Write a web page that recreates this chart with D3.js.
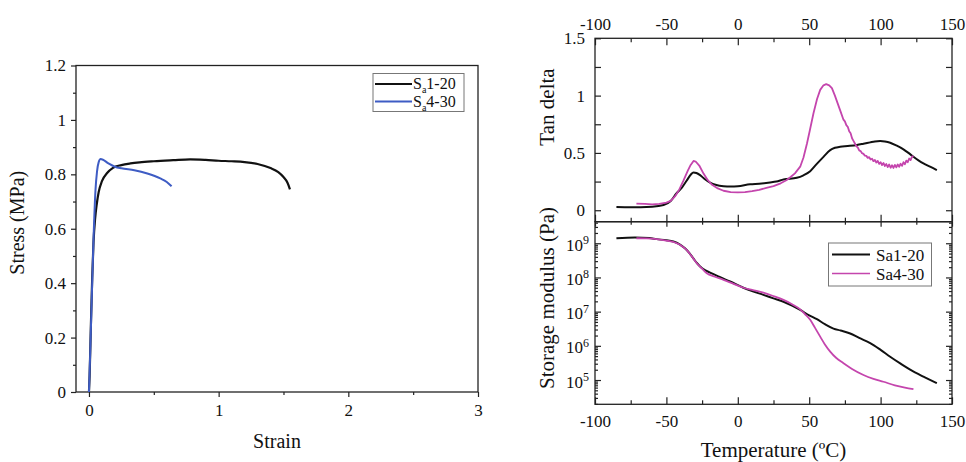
<!DOCTYPE html>
<html>
<head>
<meta charset="utf-8">
<script src="https://cdn.jsdelivr.net/npm/d3@7/dist/d3.min.js"></script>
<style>
    body { margin: 0; background: #fff; }
    svg text { font-family: "Liberation Serif", "Times New Roman", serif; fill: #111; }
</style>
</head>
<body>
<svg id="chart" width="966" height="462"></svg>
<script>
// ---- tensile test (left) ----
let strainTicks = [0, 1, 2, 3];
let strainMinor = [0.5, 1.5, 2.5];
let stressTicks = [0, 0.2, 0.4, 0.6, 0.8, 1, 1.2];
let stressMinor = [0.1, 0.3, 0.5, 0.7, 0.9, 1.1];

let tensileSa1 = [[0, 0], [0.005, 0.06], [0.015, 0.25], [0.025, 0.42], [0.035, 0.55], [0.048, 0.64],
    [0.06, 0.69], [0.075, 0.735], [0.1, 0.775], [0.14, 0.805], [0.185, 0.824], [0.25, 0.834],
    [0.32, 0.84], [0.39, 0.844], [0.5, 0.848], [0.65, 0.852], [0.78, 0.855], [0.9, 0.853],
    [1.0, 0.85], [1.1, 0.848], [1.2, 0.845], [1.3, 0.838], [1.4, 0.823], [1.46, 0.808],
    [1.5, 0.79], [1.53, 0.77], [1.55, 0.745]];
let tensileSa4 = [[0, 0], [0.01, 0.15], [0.02, 0.32], [0.035, 0.56], [0.05, 0.74], [0.062, 0.81],
    [0.075, 0.845], [0.09, 0.856], [0.11, 0.853], [0.15, 0.84], [0.2, 0.828], [0.25, 0.822],
    [0.35, 0.815], [0.45, 0.803], [0.55, 0.785], [0.6, 0.772], [0.637, 0.756]];

// ---- DMA (right) ----
let tempTicks = [-100, -50, 0, 50, 100, 150];
let tempMinor = [-75, -25, 25, 75, 125];
let tanTicks = [0, 0.5, 1, 1.5];
let tanMinor = [0.25, 0.75, 1.25];
let modulusTicks = [1e5, 1e6, 1e7, 1e8, 1e9];

let tanSa1 = [[-85, 0.029], [-75, 0.027], [-68, 0.027], [-60, 0.03], [-52, 0.045], [-47, 0.08],
    [-43, 0.146], [-39, 0.2], [-35.7, 0.26], [-33, 0.31], [-31, 0.33], [-29, 0.325], [-26.4, 0.306],
    [-23, 0.27], [-19.4, 0.24], [-15, 0.22], [-10, 0.21], [-5, 0.207], [0, 0.21], [8.6, 0.227],
    [15, 0.232], [22.6, 0.242], [27, 0.25], [32, 0.268], [41.3, 0.283], [46, 0.305], [50.7, 0.341],
    [55, 0.4], [60, 0.466], [64.7, 0.525], [68, 0.545], [71.7, 0.554], [77, 0.56], [83.4, 0.569],
    [88, 0.58], [92.7, 0.592], [96, 0.6], [99.7, 0.604], [103, 0.6], [106.7, 0.589], [111, 0.565],
    [116, 0.531], [119.5, 0.5], [123, 0.466], [126.5, 0.435], [130, 0.408], [135, 0.378], [139.4, 0.35]];
let tanSa4 = [[-71, 0.058], [-65, 0.055], [-60, 0.052], [-55, 0.055], [-50, 0.066], [-47, 0.082],
    [-44, 0.12], [-41, 0.18], [-38, 0.26], [-35, 0.345], [-33, 0.395], [-31, 0.43], [-29.5, 0.425],
    [-27, 0.39], [-24, 0.32], [-21, 0.262], [-18, 0.222], [-14, 0.19], [-10, 0.17], [-5, 0.158],
    [0, 0.155], [5, 0.158], [10, 0.166], [15, 0.178], [20, 0.195], [25, 0.21], [30, 0.235],
    [34, 0.262], [37, 0.29], [40, 0.322], [43.7, 0.38], [46, 0.46], [48.4, 0.58], [50.5, 0.7],
    [53, 0.846], [55.5, 0.97], [57.7, 1.05], [60, 1.09], [61.9, 1.1], [64, 1.09], [65.9, 1.065],
    [68, 1.0], [70, 0.93], [72, 0.86], [74, 0.79], [75, 0.775], [76, 0.742], [77, 0.728],
    [78, 0.69], [79, 0.672], [80, 0.628], [81, 0.605], [82, 0.582], [83, 0.558], [84, 0.548],
    [85, 0.522], [86, 0.516], [87, 0.498], [88, 0.492], [89, 0.476], [90, 0.474], [91, 0.457],
    [92, 0.463], [93, 0.443], [94, 0.449], [95, 0.428], [96, 0.438], [97, 0.416], [98, 0.431],
    [99, 0.404], [100, 0.419], [101, 0.394], [102, 0.412], [103, 0.386], [104, 0.403], [105, 0.377],
    [106, 0.399], [107, 0.371], [108, 0.393], [109, 0.369], [110, 0.396], [111, 0.374], [112, 0.399],
    [113, 0.379], [114, 0.406], [115, 0.387], [116, 0.419], [117, 0.401], [118, 0.433], [119, 0.419],
    [120, 0.451], [121, 0.437], [122, 0.467], [123, 0.472]];

let modSa1 = [[-85, 1.4e9], [-72, 1.48e9], [-62, 1.42e9], [-56.8, 1.32e9], [-50, 1.22e9],
    [-45.1, 1.12e9], [-41, 9.5e8], [-37, 7.1e8], [-34, 5.2e8], [-31.1, 3.6e8], [-28.5, 2.6e8],
    [-26.4, 2.1e8], [-23, 1.65e8], [-19.4, 1.38e8], [-12, 1.0e8], [-5.4, 7.6e7], [3.9, 5.0e7],
    [10, 4.0e7], [17.9, 3.1e7], [25, 2.45e7], [32, 1.95e7], [38, 1.5e7], [43.7, 1.12e7],
    [50, 7.8e6], [55.4, 6.0e6], [61, 4.3e6], [67, 3.2e6], [72, 2.8e6], [78.7, 2.3e6],
    [85, 1.7e6], [92.7, 1.2e6], [100, 7.6e5], [106.7, 4.8e5], [114, 3.0e5], [120.7, 2.0e5],
    [130, 1.25e5], [139.4, 8.1e4]];
let modSa4 = [[-71, 1.4e9], [-64, 1.38e9], [-57, 1.32e9], [-50, 1.2e9], [-44, 1.05e9],
    [-39.5, 8.5e8], [-35.7, 6.3e8], [-32, 4.0e8], [-28.7, 2.6e8], [-25, 1.8e8], [-21.7, 1.32e8],
    [-16, 1.05e8], [-10, 8.5e7], [-3, 6.5e7], [3.9, 5.0e7], [10, 4.3e7], [17.9, 3.6e7],
    [25, 2.85e7], [32, 2.2e7], [38, 1.65e7], [43.7, 1.17e7], [47, 8.5e6], [50.7, 5.8e6],
    [54, 3.4e6], [57.7, 1.86e6], [61, 1.1e6], [64.7, 6.8e5], [69, 4.4e5], [74, 3.1e5],
    [80, 2.1e5], [88, 1.4e5], [95, 1.08e5], [102, 8.9e4], [110, 7.0e4], [117, 6.0e4], [123, 5.4e4]];

let blackCol = "#111111";
let blueCol = "#3e5cc4";
let pinkCol = "#c445ad";
let frameCol = "#222";
let serif = '"Liberation Serif", "Times New Roman", serif';

let svg = d3.select("#chart");

function addAxis(gen, transform, values, size, pad, fmt, fs) {
    let g = svg.append("g")
        .attr("transform", transform)
        .call(gen.tickValues(values).tickSize(size).tickPadding(pad).tickFormat(fmt));
    g.attr("font-family", serif).attr("font-size", fs);
    g.select(".domain").remove();
    g.selectAll("line").attr("stroke", frameCol).attr("stroke-width", 1.2);
    g.selectAll("text").style("font-family", serif);
    return g;
}
// plain hyphen for negatives, like the original figure
let num = d => String(d);
let none = () => "";

// ================= LEFT : stress-strain =================
let xS = d3.scaleLinear().domain([-0.1, 3]).range([76, 478]);
let yS = d3.scaleLinear().domain([0, 1.2]).range([392, 65.5]);

addAxis(d3.axisBottom(xS), `translate(0,${yS(0)})`, strainTicks, 5, 7, num, 17);
addAxis(d3.axisBottom(xS), `translate(0,${yS(0)})`, strainMinor, 3, 7, none, 17);
addAxis(d3.axisLeft(yS), `translate(${xS(-0.1)},0)`, stressTicks, 5, 5, num, 17);
addAxis(d3.axisLeft(yS), `translate(${xS(-0.1)},0)`, stressMinor, 3, 5, none, 17);

svg.append("rect")
    .attr("x", xS(-0.1)).attr("y", yS(1.2))
    .attr("width", xS(3) - xS(-0.1)).attr("height", yS(0) - yS(1.2))
    .attr("fill", "none").attr("stroke", frameCol).attr("stroke-width", 1.3);

let tensileLine = d3.line()
    .x(d => xS(d[0])).y(d => yS(d[1]))
    .curve(d3.curveMonotoneX);

svg.append("path").datum(tensileSa1)
    .attr("d", tensileLine).attr("fill", "none")
    .attr("stroke", blackCol).attr("stroke-width", 2.2);
svg.append("path").datum(tensileSa4)
    .attr("d", tensileLine).attr("fill", "none")
    .attr("stroke", blueCol).attr("stroke-width", 2);

svg.append("text")
    .attr("transform", `translate(24,${(yS(0) + yS(1.2)) / 2 - 6}) rotate(-90)`)
    .attr("text-anchor", "middle")
    .attr("font-size", "20px")
    .text("Stress (MPa)");
svg.append("text")
    .attr("x", (xS(-0.1) + xS(3)) / 2).attr("y", 448)
    .attr("text-anchor", "middle")
    .attr("font-size", "20px")
    .text("Strain");

// legend (left)
let legL = svg.append("g");
legL.append("rect")
    .attr("x", 373).attr("y", 73.5).attr("width", 91).attr("height", 38)
    .attr("fill", "#fff").attr("stroke", "#777").attr("stroke-width", 1);
[["1-20", blackCol, 84], ["4-30", blueCol, 101.5]].forEach(function(r) {
    legL.append("line")
        .attr("x1", 375).attr("x2", 412).attr("y1", r[2]).attr("y2", r[2])
        .attr("stroke", r[1]).attr("stroke-width", 1.8);
    let t = legL.append("text")
        .attr("x", 413).attr("y", r[2] + 5)
        .attr("font-size", "16px");
    t.append("tspan").text("S");
    t.append("tspan").attr("dy", "4").attr("font-size", "10px").text("a");
    t.append("tspan").attr("dy", "-4").text(r[0]);
});

// ================= RIGHT : DMA =================
let tS = d3.scaleLinear().domain([-100, 150]).range([595, 952]);
let tanS = d3.scaleLinear().domain([-0.1, 1.5]).range([221.7, 38.3]);
let modS = d3.scaleLog().domain([1.95e4, 4.27e9]).range([404.3, 221.7]);
let modMinor = modS.ticks().filter(d => modulusTicks.indexOf(d) < 0);

// top x axis with labels
addAxis(d3.axisTop(tS), `translate(0,${tanS(1.5)})`, tempTicks, -7, 8, num, 17);
addAxis(d3.axisTop(tS), `translate(0,${tanS(1.5)})`, tempMinor, -4, 8, none, 17);
// shared boundary
addAxis(d3.axisBottom(tS), `translate(0,${tanS(-0.1)})`, tempTicks, -7, 8, none, 17);
addAxis(d3.axisBottom(tS), `translate(0,${tanS(-0.1)})`, tempMinor, -4, 8, none, 17);
addAxis(d3.axisTop(tS), `translate(0,${tanS(-0.1)})`, tempTicks, -5, 8, none, 17);
addAxis(d3.axisTop(tS), `translate(0,${tanS(-0.1)})`, tempMinor, -3, 8, none, 17);
// bottom x axis with labels
addAxis(d3.axisBottom(tS), `translate(0,${modS.range()[0]})`, tempTicks, -7, 11, num, 17);
addAxis(d3.axisBottom(tS), `translate(0,${modS.range()[0]})`, tempMinor, -4, 11, none, 17);

// tan delta y axes
addAxis(d3.axisLeft(tanS), `translate(${tS(-100)},0)`, tanTicks, -6, 10, num, 17);
addAxis(d3.axisLeft(tanS), `translate(${tS(-100)},0)`, tanMinor, -6, 10, none, 17);
addAxis(d3.axisRight(tanS), `translate(${tS(150)},0)`, tanTicks.concat(tanMinor), -6, 10, none, 17);

// modulus y axes
let gLog = addAxis(d3.axisLeft(modS), `translate(${tS(-100)},0)`, modulusTicks, -6, 6, none, 17);
addAxis(d3.axisLeft(modS), `translate(${tS(-100)},0)`, modMinor, -3, 6, none, 17);
addAxis(d3.axisRight(modS), `translate(${tS(150)},0)`, modulusTicks, -6, 6, none, 17);
addAxis(d3.axisRight(modS), `translate(${tS(150)},0)`, modMinor, -3, 6, none, 17);
gLog.selectAll(".tick text").each(function(d) {
    let t = d3.select(this);
    t.text(null).attr("dy", "0.42em");
    t.append("tspan").text("10");
    t.append("tspan").attr("dy", "-0.55em").attr("font-size", "12px")
        .text(Math.round(Math.log10(d)));
});

// frames
[[tanS(1.5), tanS(-0.1)], [modS.range()[1], modS.range()[0]]].forEach(function(p) {
    svg.append("rect")
        .attr("x", tS(-100)).attr("y", p[0])
        .attr("width", tS(150) - tS(-100)).attr("height", p[1] - p[0])
        .attr("fill", "none").attr("stroke", frameCol).attr("stroke-width", 1.3);
});

let tanLine = d3.line().x(d => tS(d[0])).y(d => tanS(d[1])).curve(d3.curveMonotoneX);
let tanNoisy = d3.line().x(d => tS(d[0])).y(d => tanS(d[1]));
let modLine = d3.line().x(d => tS(d[0])).y(d => modS(d[1])).curve(d3.curveMonotoneX);

svg.append("path").datum(tanSa1).attr("d", tanLine).attr("fill", "none")
    .attr("stroke", blackCol).attr("stroke-width", 2);
svg.append("path").datum(tanSa4).attr("d", tanNoisy).attr("fill", "none")
    .attr("stroke", pinkCol).attr("stroke-width", 1.8).attr("stroke-linejoin", "round");
svg.append("path").datum(modSa1).attr("d", modLine).attr("fill", "none")
    .attr("stroke", blackCol).attr("stroke-width", 2);
svg.append("path").datum(modSa4).attr("d", modLine).attr("fill", "none")
    .attr("stroke", pinkCol).attr("stroke-width", 1.8);

svg.append("text")
    .attr("transform", "translate(554,107) rotate(-90)")
    .attr("text-anchor", "middle").attr("font-size", "21px")
    .text("Tan delta");
svg.append("text")
    .attr("transform", "translate(554,298) rotate(-90)")
    .attr("text-anchor", "middle").attr("font-size", "21px")
    .text("Storage modulus (Pa)");
svg.append("text")
    .attr("x", (tS(-100) + tS(150)) / 2).attr("y", 457)
    .attr("text-anchor", "middle").attr("font-size", "21px")
    .text("Temperature (ºC)");

// legend (right)
let legR = svg.append("g");
legR.append("rect")
    .attr("x", 828.5).attr("y", 243).attr("width", 103).attr("height", 43)
    .attr("fill", "#fff").attr("stroke", "#777").attr("stroke-width", 1);
[["Sa1-20", blackCol, 254.5, 2], ["Sa4-30", pinkCol, 273.5, 1.6]].forEach(function(r) {
    legR.append("line")
        .attr("x1", 832).attr("x2", 870).attr("y1", r[2]).attr("y2", r[2])
        .attr("stroke", r[1]).attr("stroke-width", r[3]);
    legR.append("text")
        .attr("x", 876).attr("y", r[2] + 6)
        .attr("font-size", "17px")
        .text(r[0]);
});
</script>
</body>
</html>
